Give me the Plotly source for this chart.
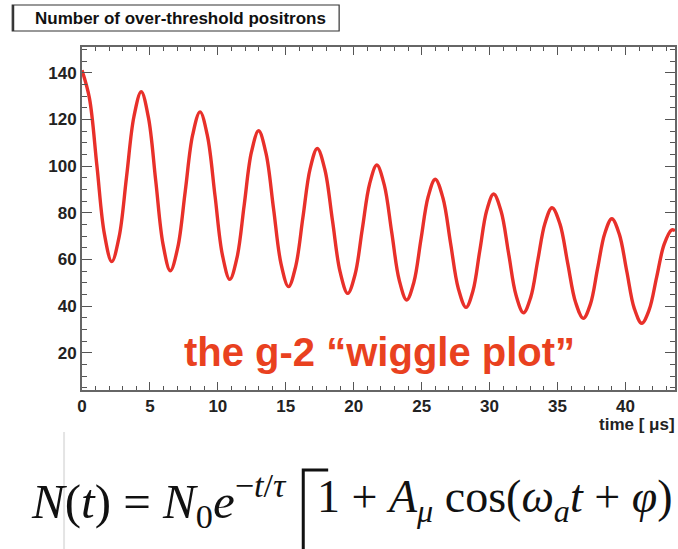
import plotly.graph_objects as go

# time [us] and counts
time_us = [0.0, 0.55, 1.1, 1.645, 2.19, 2.735, 3.28, 3.82, 4.36, 4.895, 5.43, 5.965,
           6.5, 7.05, 7.6, 8.145, 8.69, 9.24, 9.79, 10.335, 10.88, 11.41, 11.94, 12.47,
           13.0, 13.55, 14.1, 14.65, 15.2, 15.73, 16.26, 16.79, 17.32, 17.88, 18.44, 19.0,
           19.56, 20.1, 20.63, 21.17, 21.7, 22.25, 22.8, 23.35, 23.9, 24.43, 24.95, 25.48,
           26.0, 26.57, 27.13, 27.7, 28.27, 28.78, 29.28, 29.79, 30.3, 30.85, 31.4, 31.95,
           32.5, 33.03, 33.55, 34.08, 34.6, 35.18, 35.75, 36.33, 36.9, 37.43, 37.95, 38.48,
           39.0, 39.55, 40.1, 40.65, 41.2, 41.75, 42.3, 42.85, 43.4, 43.65]
counts = [141.0, 129.0, 100.0, 71.0, 59.0, 69.7, 95.4, 121.1, 131.8, 120.6, 93.5, 66.4,
          55.1, 65.1, 89.2, 113.3, 123.2, 112.7, 87.3, 61.9, 51.4, 60.7, 83.3, 105.9,
          115.1, 105.3, 81.7, 58.1, 48.3, 57.0, 77.9, 98.8, 107.5, 98.4, 76.5, 54.6,
          45.4, 53.5, 72.9, 92.3, 100.4, 91.9, 71.5, 51.1, 42.6, 50.2, 68.5, 86.8,
          94.3, 86.3, 66.9, 47.5, 39.4, 46.5, 63.7, 80.9, 88.0, 80.6, 62.6, 44.6,
          37.1, 43.7, 59.6, 75.5, 82.1, 75.2, 58.4, 41.6, 34.7, 40.9, 56.0, 71.1,
          77.4, 70.8, 54.9, 39.0, 32.6, 38.4, 52.4, 66.4, 72.6, 72.3]

x_ticks = [0, 5, 10, 15, 20, 25, 30, 35, 40]
y_ticks = [20, 40, 60, 80, 100, 120, 140]

W, H = 678, 549
L, R, T, B = 82, 1, 47, 159
pw, ph = W - L - R, H - T - B


def px(x):
    return (x - L) / pw


def py(y):
    return (H - B - y) / ph


fig = go.Figure()
fig.add_trace(go.Scatter(
    x=time_us, y=counts, mode="lines",
    line=dict(color="#E8302A", width=3.4, shape="spline", smoothing=1.0),
    hoverinfo="skip", showlegend=False))

axis_font = dict(family="Liberation Sans, Arial, sans-serif", size=17, color="#222222")
fig.update_layout(
    width=W, height=H,
    margin=dict(l=L, r=R, t=T, b=B, pad=0),
    paper_bgcolor="white", plot_bgcolor="white",
    showlegend=False,
    xaxis=dict(range=[0, 43.65], tickvals=x_ticks, ticktext=[f"<b>{v}</b>" for v in x_ticks],
               ticks="inside", ticklen=8, tickwidth=1.2, tickcolor="#555",
               minor=dict(dtick=1, tick0=0, ticks="inside", ticklen=4, tickcolor="#555"),
               showline=True, linecolor="#666", linewidth=1.8, mirror="ticks",
               showgrid=False, zeroline=False, tickfont=axis_font),
    yaxis=dict(range=[4, 151], tickvals=y_ticks, ticktext=[f"<b>{v}</b>" for v in y_ticks],
               ticks="inside", ticklen=10, tickwidth=1.2, tickcolor="#555",
               minor=dict(dtick=5, tick0=0, ticks="inside", ticklen=5, tickcolor="#555"),
               showline=True, linecolor="#666", linewidth=1.8, mirror="ticks",
               showgrid=False, zeroline=False, tickfont=axis_font),
)

# title box
fig.add_shape(type="rect", xref="paper", yref="paper",
              x0=px(12), x1=px(340), y0=py(31), y1=py(5),
              line=dict(color="#333", width=1.2))
fig.add_shape(type="line", xref="paper", yref="paper",
              x0=px(13), x1=px(13), y0=py(31), y1=py(5),
              line=dict(color="#333", width=2))
fig.add_annotation(xref="paper", yref="paper", x=px(33), y=py(18),
                   xanchor="left", yanchor="middle", showarrow=False,
                   text="<b>Number of over-threshold positrons</b>",
                   font=dict(family="Liberation Sans, Arial", size=17, color="#111"))

# x-axis title
fig.add_annotation(xref="paper", yref="paper", x=px(679), y=py(424),
                   xanchor="right", yanchor="middle", showarrow=False,
                   text="<b>time [ μs]</b>",
                   font=dict(family="Liberation Sans, Arial", size=17, color="#222"))

# red label
fig.add_annotation(xref="paper", yref="paper", x=px(182), y=py(352),
                   xanchor="left", yanchor="middle", showarrow=False,
                   text="<b>the g-2 “wiggle plot”</b>",
                   font=dict(family="Liberation Sans, Arial", size=40, color="#E9411F"))

# faint vertical line
fig.add_shape(type="line", xref="paper", yref="paper",
              x0=px(64), x1=px(64), y0=py(432), y1=py(549),
              line=dict(color="#E4E4E4", width=2))

serif = "Liberation Serif, Times New Roman, serif"
fig.add_annotation(xref="paper", yref="paper", x=px(29), y=py(500),
                   xanchor="left", yanchor="middle", showarrow=False,
                   text="<i>N</i>(<i>t</i>) = <i>N</i><sub>0</sub><i>e</i><sup>−<i>t</i>/<i>τ</i></sup>",
                   font=dict(family=serif, size=49, color="#111"))
# large left bracket drawn as a thin delimiter
fig.add_shape(type="path", xref="paper", yref="paper",
              path=f"M {px(329)} {py(470)} L {px(304)} {py(470)} L {px(304)} {py(560)}",
              line=dict(color="#111", width=3))
fig.add_annotation(xref="paper", yref="paper", x=px(316), y=py(500),
                   xanchor="left", yanchor="middle", showarrow=False,
                   text="1 + <i>A</i><sub><i>μ</i></sub> cos(<i>ω</i><sub><i>a</i></sub><i>t</i> + <i>φ</i>)",
                   font=dict(family=serif, size=46, color="#111"))

fig.write_html("out.html")
